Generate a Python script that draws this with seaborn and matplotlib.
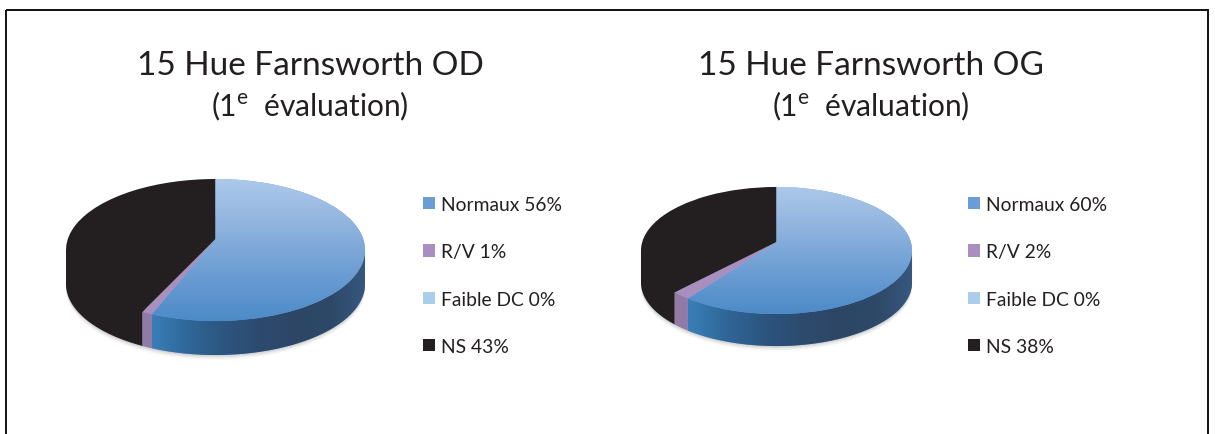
import numpy as np
import matplotlib
matplotlib.use("Agg")
import matplotlib.pyplot as plt
import seaborn as sns
from matplotlib.colors import LinearSegmentedColormap
from matplotlib.patches import Rectangle
from matplotlib.transforms import Transform

# ---- data ----
categories = ["Normaux", "R/V", "Faible DC", "NS"]
values_od = [56, 1, 0, 43]
values_og = [60, 2, 0, 38]
title_od = "15 Hue Farnsworth OD"
title_og = "15 Hue Farnsworth OG"
subtitle = "(1$^{\\mathrm{e}}$  évaluation)"

# ---- style ----
sns.set_theme(style="white")
plt.rcParams["font.family"] = ["Lato", "DejaVu Sans"]
plt.rcParams["mathtext.fontset"] = "custom"
plt.rcParams["mathtext.rm"] = "Lato"
INK = "#231f20"
palette = sns.color_palette(["#6a9dd6", "#a98fc0", "#a9cdea", INK])
side_colors = [None, "#8f7ba6", "#8fb0cc", INK]
top_cmap = LinearSegmentedColormap.from_list("top", ["#adc9ea", "#8fb3de", "#6c9dd3", "#4c8bc8"])
side_cmap = LinearSegmentedColormap.from_list(
    "side", ["#3a7fb7", "#2f6798", "#2c5580", "#2d4b6f", "#2d4666", "#2e4867", "#37587f"])


class Perspective(Transform):
    """Projects the unit pie onto the tilted disc, with the near edge enlarged."""
    input_dims = output_dims = 2
    is_separable = False
    has_inverse = False

    def __init__(self, cx, cy, sx, sy, k):
        super().__init__()
        self.cx, self.cy, self.sx, self.sy, self.k = cx, cy, sx, sy, k

    def transform_non_affine(self, values):
        values = np.asarray(values, dtype=float)
        u, v = values[:, 0], -values[:, 1]
        w = 1 - self.k * v
        return np.column_stack([self.cx + self.sx * u / w, self.cy + self.sy * v / w])


fig = plt.figure(figsize=(12.15, 4.35), dpi=100, facecolor="white")
ax = fig.add_axes([0, 0, 1, 1])


def draw_pie(values, title, cx, cy, sx, sy, k, depth, tx, legend_xy):
    persp = Perspective(cx, cy, sx, sy, k)
    wedges, _ = ax.pie(values, startangle=90, counterclock=False, colors=palette,
                       radius=1, wedgeprops={"linewidth": 0})

    # soft shadow under the disc
    th = np.radians(np.linspace(0, 360, 721))
    rim = persp.transform_non_affine(np.column_stack([np.cos(th), np.sin(th)]))
    widest_y = rim[np.argmax(rim[:, 0]), 1]
    for grow, alpha in zip([5, 4, 3, 2, 1], [0.03, 0.04, 0.05, 0.07, 0.09]):
        ax.fill(rim[:, 0], rim[:, 1] + depth + grow, color="#555555", alpha=alpha, lw=0, zorder=1)

    for i, w in enumerate(wedges):
        w.set_zorder(4)
        w.set_transform(persp + ax.transData)
        if w.theta2 - w.theta1 <= 0:
            continue
        t = np.radians(np.linspace(w.theta1, w.theta2, 400))
        unit = np.column_stack([np.cos(t), np.sin(t)])
        arc = persp.transform_non_affine(unit)
        front = arc[:, 1] >= widest_y
        arc = arc[front]
        inner = persp.transform_non_affine(0.97 * unit[front])
        xs = np.r_[inner[:, 0], arc[-1, 0], arc[::-1, 0], arc[0, 0]]
        ys = np.r_[inner[:, 1], arc[-1, 1], arc[::-1, 1] + depth, arc[0, 1]]
        face = side_colors[i] or palette[i]
        poly = ax.fill(xs, ys, color=face, lw=0, zorder=2)[0]
        if i == 0:
            grad = np.linspace(0, 1, 256)[None, :]
            im = ax.imshow(grad, cmap=side_cmap, aspect="auto", zorder=3,
                           extent=(arc[:, 0].min(), arc[:, 0].max(),
                                   rim[:, 1].max() + depth + 2, rim[:, 1].min()))
            im.set_clip_path(poly)

    grad = np.linspace(0, 1, 256)[:, None]
    top = ax.imshow(grad, cmap=top_cmap, aspect="auto", zorder=5,
                    extent=(cx - sx * 1.02, cx + sx * 1.02, rim[:, 1].max(), rim[:, 1].min()))
    top.set_clip_path(wedges[0])

    ax.text(tx, 66, title, ha="center", va="center", fontsize=24, color=INK, zorder=6)
    ax.text(tx, 106, subtitle, ha="center", va="center", fontsize=21.5, color=INK, zorder=6)

    labels = [f"{c} {v}%" for c, v in zip(categories, values)]
    leg = ax.legend(wedges, labels, loc="upper left", bbox_to_anchor=legend_xy,
                    bbox_transform=ax.transData, frameon=False, fontsize=13.9,
                    labelcolor=INK, borderpad=0, borderaxespad=0, labelspacing=1.57,
                    handlelength=0.62, handleheight=0.62, handletextpad=0.3)
    ax.add_artist(leg)
    ax.legend_ = None


draw_pie(values_od, title_od, 215.5, 240, 147.7, 69.3, 0.155, 34, 310, (423, 197))
draw_pie(values_og, title_og, 776.5, 243, 134.3, 62.4, 0.134, 32, 871, (968, 197))

ax.add_patch(Rectangle((6, 11), 1202, 440, fill=False, edgecolor="#111111", lw=1.4, zorder=7))
ax.set_aspect("auto")
ax.set_xlim(0, 1215)
ax.set_ylim(435, 0)
ax.set_axis_off()
fig.savefig("out.png", dpi=100, facecolor="white")
